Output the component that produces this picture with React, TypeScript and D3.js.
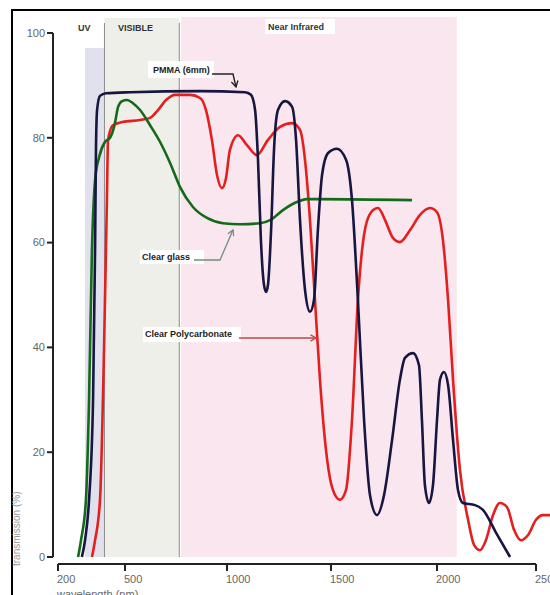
import React from 'react';
import * as d3 from 'd3';

// wavelength (nm), transmission (%)
const pmma: [number, number][] = [
  [307, 0], [321, 3.2], [339, 10.9], [357, 30], [366, 58.6], [370, 77.7], [375, 85.3],
  [388, 88], [415, 88.5], [525, 88.7], [868, 88.9], [1087, 88.7], [1115, 88.2],
  [1135, 85.3], [1149, 75.8], [1163, 60.5], [1178, 51.9], [1188, 50.6], [1197, 51.9],
  [1212, 62.4], [1226, 77.7], [1245, 85.3], [1279, 87], [1313, 85.9], [1332, 79.6],
  [1351, 64.3], [1375, 51], [1399, 46.8], [1418, 49], [1437, 62.4], [1457, 72.9],
  [1486, 77.1], [1528, 77.9], [1571, 75.8], [1599, 68.1], [1627, 49], [1656, 26.1],
  [1684, 11.8], [1717, 8], [1750, 11.8], [1788, 22.3], [1825, 33.8], [1849, 38],
  [1887, 38.9], [1915, 36.6], [1929, 26.1], [1943, 13.7], [1962, 10.3], [1981, 13.7],
  [2000, 26.1], [2015, 33.8], [2035, 35.3], [2056, 32.8], [2081, 22.3], [2106, 12.8],
  [2131, 10.3], [2192, 9.9], [2232, 9], [2300, 4.5], [2369, 0],
];

const polycarbonate: [number, number][] = [
  [352, 0], [366, 3.2], [388, 10.9], [406, 39.5], [419, 68.1], [424, 79.6], [446, 82.4],
  [487, 83], [574, 83.4], [623, 83.8], [662, 85.3], [701, 87.2], [745, 88.2], [819, 88.2],
  [868, 87.6], [897, 85.3], [926, 79.6], [951, 72.9], [975, 70.4], [995, 72.3],
  [1014, 77.7], [1053, 80.5], [1096, 78.6], [1144, 76.7], [1197, 79.6], [1255, 82.1],
  [1313, 82.8], [1351, 81.5], [1375, 75.8], [1399, 64.3], [1423, 49], [1447, 33.8],
  [1476, 20.4], [1509, 12.8], [1542, 10.9], [1571, 12.8], [1599, 26.1], [1627, 49],
  [1656, 61.5], [1689, 65.8], [1722, 66.6], [1755, 64.3], [1792, 60.9], [1825, 60.1],
  [1873, 62.4], [1920, 65.3], [1967, 66.6], [2000, 65.8], [2030, 60.5], [2056, 49],
  [2081, 33.8], [2116, 16.6], [2157, 7.1], [2187, 2.3], [2217, 1.3], [2247, 3.2],
  [2283, 8], [2318, 10.3], [2354, 9.5], [2389, 5.2], [2424, 3.2], [2460, 4.2],
  [2500, 7.1], [2535, 8], [2571, 8],
];

const clearGlass: [number, number][] = [
  [290, 0], [303, 3.2], [325, 10.9], [339, 30], [352, 58.6], [366, 71.9], [384, 76.3],
  [410, 79.2], [433, 80], [455, 82.8], [469, 85.9], [487, 87], [510, 87.2], [539, 86.6],
  [574, 85.3], [623, 82.4], [672, 79.2], [721, 75.2], [770, 70.6], [833, 66.8],
  [902, 64.7], [980, 63.7], [1063, 63.5], [1159, 63.7], [1207, 64.3], [1269, 66.2],
  [1327, 67.6], [1385, 68.3], [1447, 68.3], [1882, 68.1],
];

const xTicks = [200, 500, 1000, 1500, 2000, 2500];
const yTicks = [0, 20, 40, 60, 80, 100];

const bandNames = ['UV', 'VISIBLE', 'Near Infrared'];
const bandStart = [321, 408, 775];
const bandEnd = [408, 766, 2100];

const App = () => {
  // the printed axis is not quite linear, so map each labelled tick
  const x = d3.scaleLinear().domain(xTicks).range([58, 125, 227, 331, 437, 536]);
  const y = d3.scaleLinear().domain([0, 100]).range([557, 33]);

  const line = d3
    .line<[number, number]>()
    .x((d) => x(d[0]))
    .y((d) => y(d[1]))
    .curve(d3.curveMonotoneX);

  const labelFont = "'Liberation Sans', Arial, sans-serif";
  const bandFill = ['#e1e1ee', '#efefe9', '#fae6ee'];
  const bandTop = [48, 18, 17];

  return (
    <svg width={550} height={595} style={{ position: 'fixed', left: 0, top: 0 }}>
      <defs>
        <marker id="ah-black" viewBox="0 0 10 10" refX="8" refY="5" markerWidth="6" markerHeight="6" orient="auto">
          <path d="M1,1 L8,5 L1,9" fill="none" stroke="#222" strokeWidth="1.6" />
        </marker>
        <marker id="ah-green" viewBox="0 0 10 10" refX="8" refY="5" markerWidth="6" markerHeight="6" orient="auto">
          <path d="M1,1 L8,5 L1,9" fill="none" stroke="#6f8f7c" strokeWidth="1.6" />
        </marker>
        <marker id="ah-red" viewBox="0 0 10 10" refX="8" refY="5" markerWidth="6" markerHeight="6" orient="auto">
          <path d="M1,1 L8,5 L1,9" fill="none" stroke="#b84848" strokeWidth="1.6" />
        </marker>
      </defs>

      <rect x={0} y={0} width={550} height={595} fill="#fff" />

      {bandNames.map((name, i) => (
        <rect
          key={name}
          x={x(bandStart[i])}
          y={bandTop[i]}
          width={x(bandEnd[i]) - x(bandStart[i])}
          height={557 - bandTop[i]}
          fill={bandFill[i]}
        />
      ))}
      <line x1={x(408)} x2={x(408)} y1={23} y2={557} stroke="#8a8a8a" strokeWidth={1} />
      <line x1={x(766)} x2={x(766)} y1={23} y2={557} stroke="#8a8a8a" strokeWidth={1} />

      {/* band titles */}
      <g fontFamily={labelFont} fontWeight="bold" fontSize={9} fill="#333">
        <text x={78} y={31}>UV</text>
        <text x={118} y={31}>VISIBLE</text>
        <rect x={265} y={19} width={70} height={15} fill="#fff" />
        <text x={268} y={30}>Near Infrared</text>
      </g>

      {/* frame */}
      <rect x={12} y={10} width={580} height={620} fill="none" stroke="#000" strokeWidth={2} />

      {/* curves */}
      <path d={line(polycarbonate) ?? ''} fill="none" stroke="#e3201e" strokeWidth={2.6} />
      <path d={line(clearGlass) ?? ''} fill="none" stroke="#156a1a" strokeWidth={2.6} />
      <path d={line(pmma) ?? ''} fill="none" stroke="#161640" strokeWidth={2.6} />

      {/* annotations */}
      <g fontFamily={labelFont} fontWeight="bold" fontSize={9} fill="#222">
        <rect x={148} y={61} width={66} height={17} fill="#fff" />
        <text x={153} y={73}>PMMA (6mm)</text>
        <path d="M212,74 H233 L236,87" fill="none" stroke="#222" strokeWidth={1.4} markerEnd="url(#ah-black)" />

        <rect x={140} y={250} width={64} height={14} fill="#fff" />
        <text x={142} y={260}>Clear glass</text>
        <path d="M194,260 H220 L233,230" fill="none" stroke="#6f8f7c" strokeWidth={1.3} markerEnd="url(#ah-green)" />

        <rect x={143} y={327} width={98} height={15} fill="#fff" />
        <text x={145} y={337}>Clear Polycarbonate</text>
        <path d="M239,338 H316" fill="none" stroke="#b84848" strokeWidth={1.3} markerEnd="url(#ah-red)" />
      </g>

      {/* y axis */}
      <g fontFamily={labelFont} fontSize={11} fill="#666">
        <line x1={53} x2={53} y1={y(100)} y2={y(0)} stroke="#222" strokeWidth={2} />
        {yTicks.map((t) => (
          <g key={t}>
            <line x1={47} x2={53} y1={y(t)} y2={y(t)} stroke="#222" strokeWidth={2} />
            <text x={45} y={y(t)} dy="0.35em" textAnchor="end">{t}</text>
          </g>
        ))}
        <text transform="translate(20,566) rotate(-90)" fontSize={10} fill="#999">transmission (%)</text>
      </g>

      {/* x axis */}
      <g fontFamily={labelFont} fontSize={11} fill="#666">
        <line x1={x(200)} x2={x(2500)} y1={564} y2={564} stroke="#222" strokeWidth={2} />
        {xTicks.map((t) => (
          <g key={t}>
            <line x1={x(t)} x2={x(t)} y1={564} y2={571} stroke="#222" strokeWidth={2} />
            <text x={x(t) - 1} y={583}>{t}</text>
          </g>
        ))}
        <text x={57} y={598}>wavelength (nm)</text>
      </g>
    </svg>
  );
};

export default App;
